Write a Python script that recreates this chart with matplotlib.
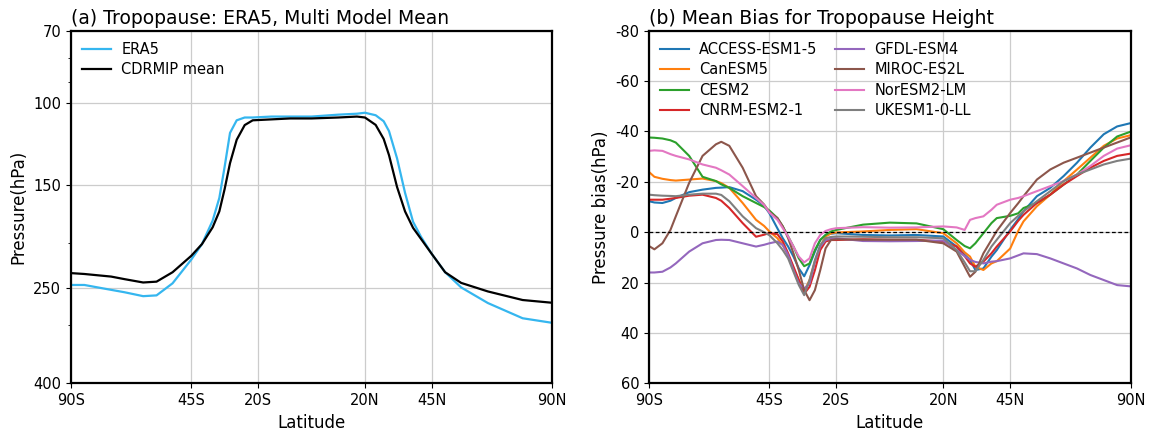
import matplotlib
matplotlib.use("Agg")
import matplotlib.pyplot as plt
from matplotlib.ticker import NullFormatter

# ---------------- data: panel (a) ----------------
lat_a = [-90, -85, -80, -75, -70, -63, -58, -52, -45, -41, -37, -34.5, -32.5, -30.5,
         -28, -25, -22, -15, -8, 0, 10, 17, 20, 24, 27, 29, 32, 35, 38, 41, 45, 50,
         56, 66, 79, 90]
era5 = [246, 246, 249, 252, 255, 260, 259, 244, 217, 201, 179, 160, 137, 116,
        109, 107.5, 107.5, 107, 107, 107, 106, 105.5, 105, 106.3, 109.5, 115, 131.5,
        156, 180, 194, 211, 231, 249, 269, 290, 296.6]
cdrmip_mean = [232, 233, 234.5, 236, 239, 243, 242, 231, 213, 201, 185, 171, 153,
               134.7, 120, 111.6, 109, 108.5, 108, 108, 107.5, 107, 107.5, 111.5,
               119.5, 129.5, 151.5, 171, 185.5, 196, 211, 231, 243.5, 254, 265, 268.6]

# ---------------- data: panel (b) ----------------
lat_b = [-90, -88, -85, -82, -80, -75, -70, -65, -63, -60, -55, -50, -47, -45, -42,
         -40, -38, -36, -34, -32, -30, -28, -26, -24, -22, -20, -10, 0, 10, 20,
         25, 28, 30, 32, 35, 38, 40, 45, 48, 50, 55, 60, 65, 70, 75, 80, 85, 90]

access = [-12.3, -11.8, -11.6, -12.5, -13.6, -15.9, -16.9, -17.6, -17.7, -17.9,
          -16.3, -12.9, -10.5, -7.5, -1.5, 2.4, 5.7, 9.7, 14.4, 17.5,
          13.1, 7.7, 3.1, 1.1, 0.6, 0.4, 1.1, 1.3, 1.1, 1.7,
          5.7, 9, 11, 15, 14.4, 9.7, 7.1, -0.9, -5.2, -8.3,
          -14.3, -17.6, -22.3, -27.6, -33.6, -38.9, -42, -43.3]
canesm = [-23.9, -22, -21.2, -20.7, -20.5, -20.9, -21.3, -20.3, -19.5, -17.6,
          -11.6, -4.9, -2.5, -0.3, 2.4, 5.1, 9.1, 14.4, 19, 23.5,
          19, 11.7, 5.7, 1.7, 0.5, 0.1, -0.3, -0.9, -1.2, 0.4,
          4.4, 8, 9.7, 13.7, 15, 12.4, 11.5, 6.5, -0.5, -4.3,
          -10.3, -14.9, -20.3, -24.9, -29.6, -34.3, -37.2, -38.5]
cesm = [-37.6, -37.5, -37.2, -36.5, -35.6, -30.3, -22, -20.3, -19, -17.6,
        -14.3, -11.6, -10, -8.6, -5.6, -2.3, 1.7, 5.7, 10.4, 13.5,
        12.4, 7.1, 3.1, 1.1, -0.3, -0.9, -3.0, -3.8, -3.5, -1.2,
        3.1, 5.5, 6.4, 4.4, 0.4, -3.6, -5.6, -6.5, -7.5, -9.6,
        -11.6, -14.9, -18.9, -22.9, -28.3, -33.6, -38, -39.9]
cnrm = [-12.9, -12.9, -12.9, -13.3, -13.6, -14.5, -14.9, -13.6, -12.5, -9.6,
        -3.6, 1.8, 1, 0.3, 0.8, 3.7, 8.4, 13.7, 19, 24.4,
        21.7, 15.1, 7.1, 3.7, 3.1, 3.1, 2.8, 3, 3, 3.7,
        5.7, 9.5, 12.4, 13.7, 11.7, 8.4, 5.7, -0.3, -4.5, -6.9,
        -11.6, -14.9, -18.9, -22.3, -25.6, -28.3, -30.3, -31.2]
gfdl = [16, 16, 15.7, 14, 12.4, 7.7, 4.4, 3.1, 3, 3.1,
        4.4, 5.7, 5, 4.4, 3.7, 5.1, 9.1, 15.1, 20.4, 22.4,
        20.4, 11.7, 5.7, 3.1, 2.6, 2.4, 3.5, 3.6, 3.5, 3.3,
        7.1, 9.5, 11, 11.8, 12.4, 11.7, 11.5, 10.4, 9.2, 8.4,
        8.7, 10.4, 12.4, 14.4, 17, 19, 21, 21.5]
miroc = [5.5, 6.8, 4.4, -0.9, -6.3, -19.6, -30.3, -34.9, -35.9, -34.3,
         -25.6, -14.3, -11, -8, -5.6, -2.3, 2.4, 8.4, 15.1, 23,
         27, 23, 15.1, 6.4, 3.1, 2.8, 3, 3, 3, 4.4,
         7.7, 13.7, 17.7, 15.7, 8.4, 3.1, -0.5, -7.6, -11.5, -14.3,
         -20.9, -24.9, -27.6, -29.6, -31.6, -33.6, -35.6, -37.6]
noresm = [-32.3, -32.5, -32.3, -31, -30.3, -28.9, -26.9, -25.6, -24.6, -22.9,
          -18.3, -13.6, -10.8, -7.8, -4.9, -1.6, 1.7, 5.7, 9.7, 12,
          10.4, 4.4, 1.1, -0.5, -1.2, -1.6, -2, -1.8, -1.9, -2.3,
          -1.9, -0.9, -4.9, -5.6, -6.3, -8.9, -10.9, -12.9, -13.6, -14.3,
          -16.3, -18.3, -20.3, -22.9, -26.3, -30.3, -33.2, -34.5]
ukesm = [-14.9, -14.7, -14.5, -14.4, -14.3, -14.9, -15.3, -15.3, -14.8, -12.3,
         -6.3, -1.6, 0, 1.2, 4.4, 7.1, 10.4, 15.7, 21, 25,
         19, 11.1, 5.1, 2.4, 1.9, 1.7, 1.8, 2, 2, 2.4,
         7.1, 12, 15.5, 15.5, 11, 5.7, 3, -3.6, -6.5, -8.3,
         -12.3, -16.3, -20.3, -22.9, -24.9, -26.9, -28.3, -29.2]

model_names = ["ACCESS-ESM1-5", "CanESM5", "CESM2", "CNRM-ESM2-1",
               "GFDL-ESM4", "MIROC-ES2L", "NorESM2-LM", "UKESM1-0-LL"]
model_series = [access, canesm, cesm, cnrm, gfdl, miroc, noresm, ukesm]
model_colors = ["tab:blue", "tab:orange", "tab:green", "tab:red",
                "tab:purple", "tab:brown", "tab:pink", "tab:gray"]

xticks = [-90, -45, -20, 20, 45, 90]
xticklabels = ["90S", "45S", "20S", "20N", "45N", "90N"]
yticks_a = [70, 100, 150, 250, 400]
yticks_b = [-80, -60, -40, -20, 0, 20, 40, 60]

# ---------------- figure ----------------
plt.rcParams["font.family"] = ["DejaVu Sans"]
plt.rcParams["axes.unicode_minus"] = False
fig = plt.figure(figsize=(11.51, 4.34), dpi=100)
ax1 = fig.add_axes([0.0617, 0.1168, 0.4179, 0.8124])
ax2 = fig.add_axes([0.5639, 0.1168, 0.4183, 0.8124])

grid_kw = dict(color="0.8", linewidth=0.9)
leg_kw = dict(loc="upper left", frameon=False, fontsize=10.5, labelspacing=0.38,
              handlelength=2.0, handletextpad=0.7, borderaxespad=0.35)

# panel (a)
ax1.plot(lat_a, era5, color="#35b6ef", lw=1.6, label="ERA5")
ax1.plot(lat_a, cdrmip_mean, color="black", lw=1.6, label="CDRMIP mean")
ax1.set_yscale("log")
ax1.set_ylim(400, 70)
ax1.set_yticks(yticks_a)
ax1.set_yticklabels([str(v) for v in yticks_a])
ax1.yaxis.set_minor_formatter(NullFormatter())
ax1.set_ylabel("Pressure(hPa)", fontsize=12)
ax1.set_title("(a) Tropopause: ERA5, Multi Model Mean", loc="left", fontsize=13.5, pad=5)
ax1.legend(**leg_kw)

# panel (b)
for name, vals, col in zip(model_names, model_series, model_colors):
    ax2.plot(lat_b, vals, color=col, lw=1.5, label=name)
ax2.axhline(0, color="black", lw=0.9, ls="--", dashes=(3, 2))
ax2.set_ylim(60, -80)
ax2.set_yticks(yticks_b)
ax2.set_ylabel("Pressure bias(hPa)", fontsize=12)
ax2.set_title("(b) Mean Bias for Tropopause Height", loc="left", fontsize=13.6, pad=5)
ax2.legend(ncol=2, columnspacing=1.2, **leg_kw)

for ax in (ax1, ax2):
    ax.set_xlim(-90, 90)
    ax.set_xticks(xticks)
    ax.set_xticklabels(xticklabels)
    ax.set_xlabel("Latitude", fontsize=12)
    ax.grid(True, which="major", **grid_kw)
    ax.set_axisbelow(True)
    ax.tick_params(labelsize=10.5)
    for s in ax.spines.values():
        s.set_linewidth(1.6)

fig.savefig("out.png", dpi=100)
